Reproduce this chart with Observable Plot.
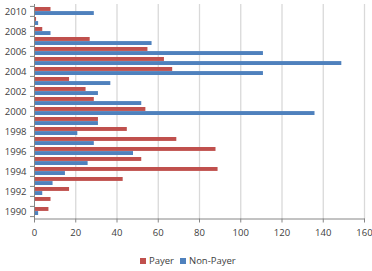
<!DOCTYPE html>
<html><head><meta charset="utf-8">
<script src="https://cdn.jsdelivr.net/npm/d3@7"></script>
<script src="https://cdn.jsdelivr.net/npm/@observablehq/plot@0.6"></script>
<style>
body{margin:0;background:#fff;font-family:"Open Sans",sans-serif;}
#wrap{position:relative;width:372px;height:271px;}
#legend{position:absolute;left:140px;top:255px;font-size:9.5px;color:#404040;white-space:nowrap;line-height:12px;}
#legend span.sw{display:inline-block;width:6px;height:6px;margin-right:3px;vertical-align:0px;}
#legend span.it{margin-right:6px;}
</style></head><body><div id="wrap"><div id="chart"></div><div id="legend"></div></div>
<script>
const years = [1990,1991,1992,1993,1994,1995,1996,1997,1998,1999,2000,2001,2002,2003,2004,2005,2006,2007,2008,2009,2010];
const payer    = [7,8,17,43,89,52,88,69,45,31,54,29,25,17,67,63,55,27,4,1,8];
const nonPayer = [2,0,4,9,15,26,48,29,21,31,136,52,31,37,111,149,111,57,8,2,29];
const yearLabels = [1990,1992,1994,1996,1998,2000,2002,2004,2006,2008,2010];
const xTicks = [0,20,40,60,80,100,120,140,160];
const seriesNames = ["Payer","Non-Payer"];
const colors = ["#c0504d","#4f81bd"];

const table = years.map((y,i)=>({year:y, payer:payer[i], nonPayer:nonPayer[i]}));
const W=372, H=245, mt=4, mb=26.5;
const step = (H-mt-mb)/years.length;
const half = step*0.8/2;
const axisColor = "#868686";

const chart = Plot.plot({
  width: W, height: H,
  marginLeft: 34, marginRight: 8, marginTop: mt, marginBottom: mb,
  style: {fontFamily: "'Open Sans', sans-serif", fontSize: "9.5px", color: "#404040", background: "#fff"},
  x: {domain: [0,160]},
  y: {domain: years.slice().reverse(), paddingInner: 0.2, paddingOuter: 0.1},
  marks: [
    Plot.gridX({ticks: xTicks.filter(d=>d>0), stroke: "#d9d9d9", strokeOpacity: 1, strokeWidth: 1.3}),
    Plot.barX(table, {x: "payer", y: "year", fill: colors[0], insetBottom: half}),
    Plot.barX(table, {x: "nonPayer", y: "year", fill: colors[1], insetTop: half}),
    Plot.frame({anchor: "left", stroke: axisColor}),
    Plot.frame({anchor: "bottom", stroke: axisColor}),
    Plot.axisX({ticks: xTicks, tickSize: 4, tickPadding: 6, stroke: axisColor, label: null, fill: "#404040"}),
    Plot.axisY({ticks: years, tickSize: 4, dy: -step/2, tickFormat: () => "", stroke: axisColor, label: null}),
    Plot.axisY({ticks: [years[0]], tickSize: 4, dy: step/2, tickFormat: () => "", stroke: axisColor, label: null}),
    Plot.axisY({ticks: yearLabels, tickSize: 0, tickPadding: 8, tickFormat: d => String(d), label: null, fill: "#404040"})
  ]
});
document.getElementById("chart").appendChild(chart);
document.getElementById("legend").innerHTML = seriesNames.map((s,i)=>
  `<span class="it"><span class="sw" style="background:${colors[i]}"></span>${s}</span>`).join("");
</script></body></html>
